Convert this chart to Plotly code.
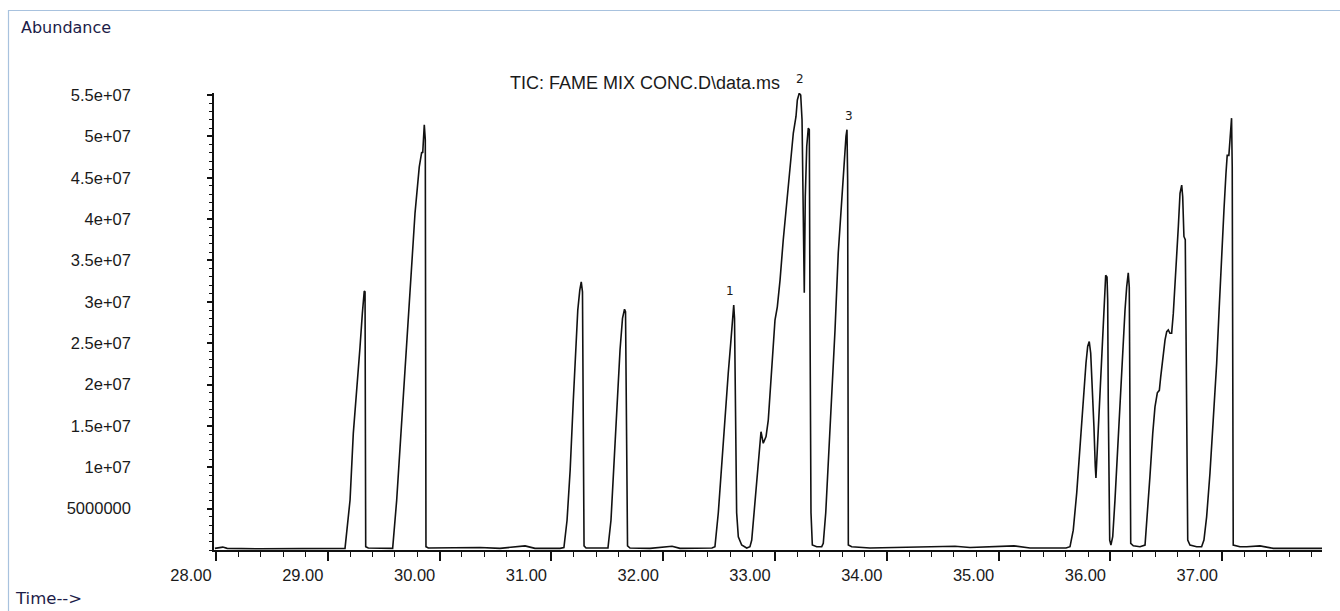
import plotly.graph_objects as go

# Retention time (min) and abundance
time_min = [
    27.99, 28.06, 28.10, 28.39, 29.154,
    29.199, 29.228, 29.259, 29.288, 29.309, 29.326, 29.333, 29.339, 29.362, 29.467, 29.580,
    29.616, 29.646, 29.675, 29.706, 29.735, 29.765, 29.780, 29.801, 29.818, 29.840, 29.849,
    29.863, 29.872, 29.878, 29.899, 30.361, 30.54, 30.764, 30.853, 31.077,
    31.112, 31.140, 31.168, 31.196, 31.216, 31.236, 31.254, 31.267, 31.278, 31.292, 31.310,
    31.435, 31.506,
    31.533, 31.560, 31.587, 31.614, 31.636, 31.654, 31.663, 31.672, 31.681, 31.703,
    31.882, 32.079, 32.150, 32.436,
    32.463, 32.493, 32.523, 32.553, 32.582, 32.604, 32.622, 32.631, 32.638, 32.642, 32.649,
    32.657, 32.672, 32.702, 32.747,
    32.776, 32.792, 32.812, 32.836, 32.860, 32.875, 32.895, 32.920, 32.940, 32.971, 33.000,
    33.021, 33.045, 33.074, 33.105, 33.134, 33.164, 33.188, 33.200, 33.217, 33.230, 33.242,
    33.253, 33.262, 33.271, 33.284, 33.298, 33.307, 33.313, 33.322, 33.334, 33.373, 33.418,
    33.432, 33.454, 33.477, 33.507, 33.537, 33.566, 33.597, 33.620, 33.635, 33.644, 33.650,
    33.656, 33.686,
    33.85, 34.118, 34.476, 34.61, 34.744, 35.138, 35.281, 35.603,
    35.639, 35.668, 35.699, 35.728, 35.752, 35.767, 35.782, 35.797, 35.811, 35.824, 35.842,
    35.853, 35.865, 35.871, 35.883, 35.898, 35.913, 35.925, 35.937, 35.949, 35.958, 35.970,
    35.976, 35.981, 35.988, 35.994, 36.005, 36.021, 36.041, 36.062, 36.086, 36.110, 36.131,
    36.146, 36.160, 36.169, 36.175, 36.182, 36.205, 36.265, 36.310, 36.330, 36.354, 36.379,
    36.399, 36.420, 36.438, 36.450, 36.468, 36.489, 36.504, 36.518, 36.533, 36.548, 36.563,
    36.578, 36.593, 36.608, 36.623, 36.638, 36.647, 36.658, 36.670, 36.676, 36.683, 36.692,
    36.712, 36.772, 36.816, 36.837, 36.861, 36.891, 36.920, 36.951, 36.974, 36.995, 37.016,
    37.034, 37.045, 37.060, 37.076, 37.084, 37.090, 37.093, 37.099, 37.159, 37.219, 37.338,
    37.457, 37.893,
]
abundance = [
    0.2e6, 0.35e6, 0.2e6, 0.15e6, 0.2e6,
    6.04e6, 14.1e6, 19.0e6, 24.5e6, 28.6e6, 31.3e6, 31.2e6, 0.4e6, 0.24e6, 0.2e6, 0.2e6,
    6.0e6, 12.1e6, 18.1e6, 25.0e6, 31.1e6, 37.5e6, 40.7e6, 43.5e6, 46.3e6, 48.1e6, 48.0e6,
    51.4e6, 49.6e6, 0.4e6, 0.24e6, 0.3e6, 0.2e6, 0.5e6, 0.2e6, 0.2e6,
    0.3e6, 3.6e6, 9.7e6, 18.1e6, 24.2e6, 29.0e6, 31.4e6, 32.4e6, 31.2e6, 0.5e6, 0.24e6,
    0.2e6, 0.25e6,
    3.6e6, 10.9e6, 18.1e6, 24.2e6, 28.0e6, 29.1e6, 28.8e6, 12.1e6, 0.5e6, 0.24e6,
    0.2e6, 0.45e6, 0.2e6, 0.25e6,
    0.4e6, 4.5e6, 10.5e6, 16.6e6, 21.4e6, 25.0e6, 28.6e6, 29.6e6, 28.0e6, 20.5e6, 12.5e6,
    4.5e6, 1.6e6, 0.6e6, 0.24e6,
    0.4e6, 1.2e6, 4.5e6, 8.5e6, 12.5e6, 14.3e6, 12.9e6, 13.7e6, 15.7e6, 21.4e6, 27.8e6,
    29.4e6, 32.6e6, 37.5e6, 41.9e6, 46.8e6, 50.4e6, 52.4e6, 54.4e6, 55.2e6, 55.0e6, 52.0e6,
    40.7e6, 31.1e6, 42.7e6, 48.8e6, 51.0e6, 50.8e6, 28.6e6, 4.5e6, 0.6e6, 0.4e6, 0.4e6,
    0.8e6, 4.5e6, 10.5e6, 18.5e6, 26.6e6, 35.9e6, 42.7e6, 47.5e6, 50.0e6, 50.8e6, 44.7e6,
    0.6e6, 0.4e6,
    0.25e6, 0.3e6, 0.35e6, 0.45e6, 0.3e6, 0.5e6, 0.25e6, 0.25e6,
    0.4e6, 2.4e6, 6.9e6, 12.5e6, 18.1e6, 20.9e6, 22.6e6, 24.6e6, 25.2e6, 23.8e6, 19.3e6,
    14.9e6, 10.1e6, 8.7e6, 12.1e6, 16.6e6, 20.2e6, 23.8e6, 27.0e6, 30.2e6, 33.2e6, 33.0e6,
    30.2e6, 18.1e6, 6.0e6, 1.2e6, 0.6e6, 1.6e6, 6.0e6, 11.7e6, 18.1e6, 25.0e6, 29.0e6,
    31.8e6, 33.5e6, 31.8e6, 18.1e6, 0.8e6, 0.5e6, 0.4e6, 0.6e6, 4.0e6, 8.9e6, 14.1e6,
    17.3e6, 19.0e6, 19.3e6, 20.9e6, 23.4e6, 25.4e6, 26.4e6, 26.6e6, 26.2e6, 26.2e6, 28.6e6,
    31.8e6, 35.5e6, 39.1e6, 43.1e6, 44.1e6, 42.7e6, 37.9e6, 37.5e6, 26.2e6, 10.1e6, 1.2e6,
    0.6e6, 0.4e6, 0.4e6, 1.2e6, 4.0e6, 9.3e6, 15.7e6, 22.6e6, 29.4e6, 35.9e6, 41.1e6,
    45.5e6, 47.7e6, 47.7e6, 51.2e6, 52.2e6, 46.3e6, 2.1e6, 0.6e6, 0.4e6, 0.4e6, 0.5e6,
    0.2e6, 0.2e6,
]

x_tick_vals = [28, 29, 30, 31, 32, 33, 34, 35, 36, 37]
x_tick_text = ["28.00", "29.00", "30.00", "31.00", "32.00", "33.00", "34.00", "35.00", "36.00", "37.00"]
y_tick_vals = [5e6, 10e6, 15e6, 20e6, 25e6, 30e6, 35e6, 40e6, 45e6, 50e6, 55e6]
y_tick_text = ["5000000", "1e+07", "1.5e+07", "2e+07", "2.5e+07", "3e+07", "3.5e+07",
               "4e+07", "4.5e+07", "5e+07", "5.5e+07"]

peak_labels = ["1", "2", "3"]
peak_label_time = [32.60, 33.224, 33.662]
peak_label_abund = [31.3e6, 56.9e6, 52.5e6]

title_text = "TIC: FAME MIX CONC.D\\data.ms"

# plot-area geometry (pixels)
L, T, R, B = 214, 93, 18, 61
W, H = 1340, 611
PW, PH = W - L - R, H - T - B
X_RANGE = [27.982, 37.893]
Y_RANGE = [0, 5.524e7]


def px(xp):
    return (xp - L) / PW


def py(yp):
    return (H - B - yp) / PH


fig = go.Figure()
fig.add_trace(go.Scatter(
    x=time_min, y=abundance, mode="lines",
    line=dict(color="#111111", width=1.6),
    showlegend=False, hoverinfo="skip",
))

# peak numbers (placed in paper space so labels above the axis top still show)
for lab, t, a in zip(peak_labels, peak_label_time, peak_label_abund):
    xp = (t - X_RANGE[0]) / (X_RANGE[1] - X_RANGE[0])
    yp = (a - Y_RANGE[0]) / (Y_RANGE[1] - Y_RANGE[0])
    fig.add_annotation(x=xp, y=yp, text=lab, showarrow=False, xref="paper", yref="paper",
                       font=dict(family="DejaVu Sans", size=12, color="#1a1a1a"),
                       xanchor="center", yanchor="middle")

fig.add_annotation(x=px(645), y=py(83), xref="paper", yref="paper", text=title_text,
                   showarrow=False, xanchor="center", yanchor="middle",
                   font=dict(family="Liberation Sans", size=18, color="#1a1a1a"))
fig.add_annotation(x=px(66), y=py(28), xref="paper", yref="paper", text="Abundance",
                   showarrow=False, xanchor="center", yanchor="middle",
                   font=dict(family="DejaVu Sans", size=16, color="#1c1c48"))
fig.add_annotation(x=px(48.5), y=py(598), xref="paper", yref="paper", text="Time-->",
                   showarrow=False, xanchor="center", yanchor="middle",
                   font=dict(family="DejaVu Sans", size=16.5, color="#1c1c48"))

fig.add_shape(type="rect", xref="paper", yref="paper",
              x0=px(8.5), x1=px(1400), y0=py(700), y1=py(10.5),
              line=dict(color="#a8c2de", width=1.2), fillcolor="rgba(0,0,0,0)", layer="below")

fig.update_layout(
    width=W, height=H,
    margin=dict(l=L, r=R, t=T, b=B, pad=0),
    paper_bgcolor="white", plot_bgcolor="white",
    showlegend=False,
    xaxis=dict(
        range=X_RANGE, showgrid=False, zeroline=False,
        showline=True, linecolor="#111111", linewidth=1.5,
        tickmode="array", tickvals=x_tick_vals, ticktext=x_tick_text,
        ticks="outside", ticklen=9, tickwidth=1.5, tickcolor="#111111",
        ticklabelshift=-25,
        tickfont=dict(family="Liberation Sans", size=16.5, color="#1a1a1a"),
        minor=dict(tick0=28, dtick=0.2, ticks="outside", ticklen=5,
                   tickwidth=1.2, tickcolor="#111111", showgrid=False),
    ),
    yaxis=dict(
        range=Y_RANGE, showgrid=False, zeroline=False,
        showline=True, linecolor="#111111", linewidth=1.5,
        tickmode="array", tickvals=y_tick_vals, ticktext=y_tick_text,
        ticks="outside", ticklen=5, tickwidth=1.5, tickcolor="#111111",
        ticklabelstandoff=73,
        tickfont=dict(family="Liberation Sans", size=16.5, color="#1a1a1a"),
        minor=dict(tick0=0, dtick=1e6, ticks="outside", ticklen=3,
                   tickwidth=1.2, tickcolor="#111111", showgrid=False),
    ),
)

fig.write_html("out.html")
